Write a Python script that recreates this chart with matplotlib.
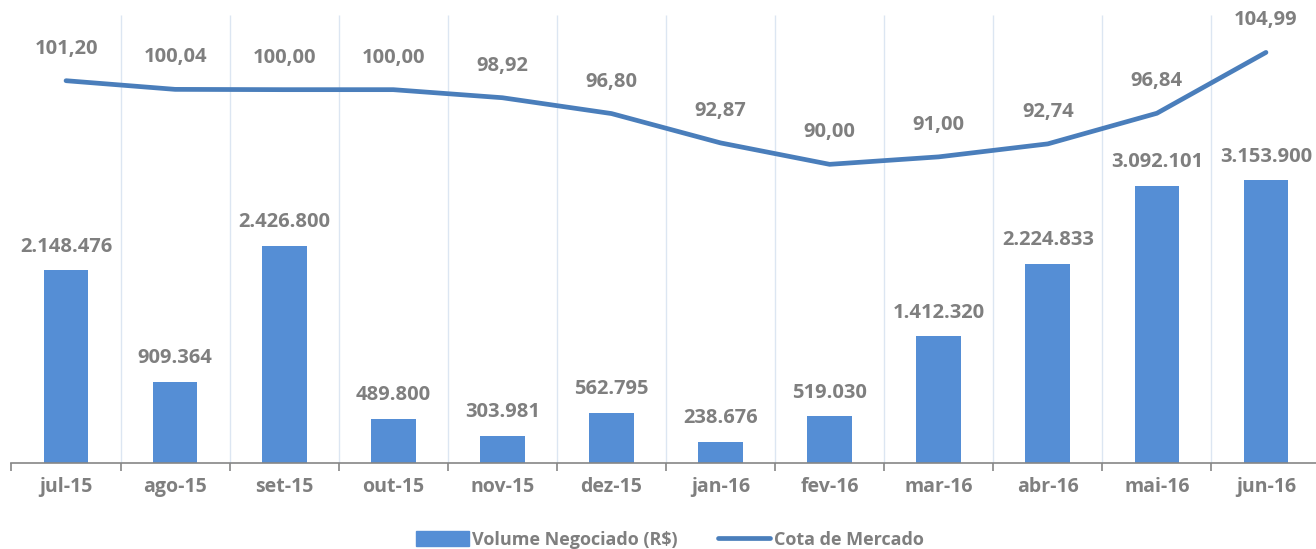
import matplotlib
matplotlib.use("Agg")
import matplotlib.pyplot as plt
from matplotlib.patches import Patch
from matplotlib.lines import Line2D

meses = ["jul-15", "ago-15", "set-15", "out-15", "nov-15", "dez-15",
         "jan-16", "fev-16", "mar-16", "abr-16", "mai-16", "jun-16"]
volume = [2148476, 909364, 2426800, 489800, 303981, 562795,
          238676, 519030, 1412320, 2224833, 3092101, 3153900]
cota = [101.20, 100.04, 100.00, 100.00, 98.92, 96.80,
        92.87, 90.00, 91.00, 92.74, 96.84, 104.99]

BAR_C = "#558ED5"
LINE_C = "#4A7EBB"
TXT_C = "#7F7F7F"
GRID_C = "#DCE6F2"
plt.rcParams['font.family'] = ['Open Sans', 'DejaVu Sans']
FS = 14.5

def fmt_int(v):
    return f"{v:,}".replace(",", ".")

def fmt_dec(v):
    return f"{v:.2f}".replace(".", ",")

fig = plt.figure(figsize=(13.16, 5.49), dpi=100)
ax = fig.add_axes([11.5/1316, 86/549, 1309/1316, 448/549])
ax2 = ax.twinx()
x = list(range(len(meses)))

ax.vlines([i + 0.5 for i in x[:-1]], 0, 5e6, color=GRID_C, lw=1, zorder=0)
ax.bar(x, volume, width=0.41, color=BAR_C, zorder=2)
for xi, v in zip(x, volume):
    ax.annotate(fmt_int(v), (xi, v), xytext=(0, 10), textcoords="offset points",
                ha="center", va="bottom", fontsize=FS, fontweight="bold", color=TXT_C)
ax.set_ylim(0, 5e6)
ax.set_xlim(-0.5, len(meses) - 0.5)

ax2.plot(x, cota, color=LINE_C, lw=3.4, solid_capstyle="round", solid_joinstyle="round", zorder=3)
for xi, v in zip(x, cota):
    ax2.annotate(fmt_dec(v), (xi, v), xytext=(0, 23), textcoords="offset points",
                 ha="center", va="center", fontsize=FS, fontweight="bold", color=TXT_C)
ax2.set_ylim(50, 110)

for a in (ax, ax2):
    for s in ["top", "right", "left"]:
        a.spines[s].set_visible(False)
    a.set_yticks([])
ax2.spines["bottom"].set_visible(False)
ax.spines["bottom"].set_color("#868686")
ax.spines["bottom"].set_linewidth(1.2)

ax.set_xticks(x)
ax.set_xticklabels(meses, fontsize=14, fontweight="bold", color=TXT_C)
ax.tick_params(axis="x", which="major", length=0, pad=10)
ax.set_xticks([i - 0.5 for i in range(len(meses) + 1)], minor=True)
ax.tick_params(axis="x", which="minor", length=6, width=1.2, color="#868686", direction="out")

handles = [Patch(color=BAR_C), Line2D([0], [0], color=LINE_C, lw=3.4, solid_capstyle="round")]
fig.legend(handles, ["Volume Negociado (R$)", "Cota de Mercado"], loc="center",
           bbox_to_anchor=(670/1316, 1 - 540/549), ncol=2, frameon=False,
           prop={"size": 13, "weight": "bold"}, labelcolor=TXT_C,
           handlelength=2.9, handleheight=0.9, handletextpad=0.2, columnspacing=2.2)

fig.savefig("out.png", dpi=100)
